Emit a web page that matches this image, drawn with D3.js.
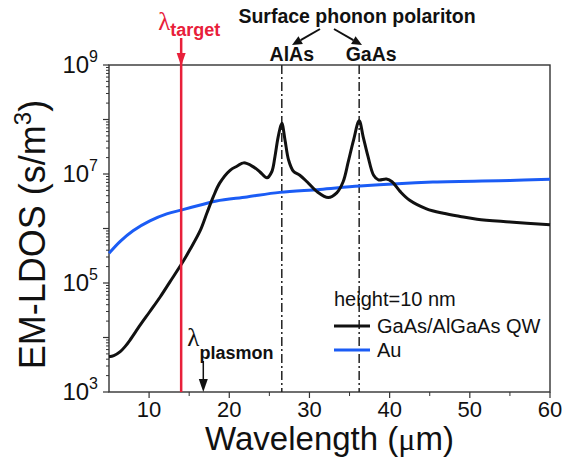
<!DOCTYPE html>
<html>
<head>
<meta charset="utf-8">
<script src="https://cdn.jsdelivr.net/npm/d3@7"></script>
<style>
  html, body { margin: 0; padding: 0; background: #fff; }
  svg { display: block; font-family: "Liberation Sans", Arial, sans-serif; }
</style>
</head>
<body>
<svg id="chart" width="565" height="464"></svg>
<script>
// ---- data ----
const wavelengthQW = [5.0, 5.6, 6.4, 7.0, 7.6, 8.9, 10.1, 11.4, 12.6, 14.1, 15.1, 16.4, 17.2, 18.0, 18.8, 20.1, 21.0, 21.8,
  23.0, 23.8, 24.7, 25.3, 25.7, 26.1, 26.55, 26.95, 27.4, 28.0, 28.8, 29.7, 30.9, 32.35, 33.4, 34.2, 34.85,
  35.5, 36.2, 36.7, 37.3, 38.0, 38.6, 39.6, 40.3, 41.3, 42.5, 44.6, 46.7, 48.8, 50.9, 55.0, 60.0];
const ldosQW = [4.45e3, 4.65e3, 5.5e3, 6.8e3, 8.9e3, 1.7e4, 3.0e4, 5.6e4, 1.05e5, 2.3e5, 4.1e5, 9.3e5, 1.9e6, 3.8e6, 6.8e6, 1.17e7, 1.4e7, 1.6e7,
  1.35e7, 1.1e7, 8.5e6, 1.1e7, 2.1e7, 4.8e7, 8.5e7, 4.2e7, 1.8e7, 1.12e7, 9.5e6, 7.2e6, 4.8e6, 3.7e6, 4.5e6, 7.2e6, 1.7e7,
  4.2e7, 9.5e7, 4.8e7, 2.1e7, 9.5e6, 7.8e6, 8.1e6, 7.2e6, 4.8e6, 3.3e6, 2.3e6, 1.9e6, 1.66e6, 1.48e6, 1.32e6, 1.17e6];

const wavelengthAu = [5.0, 6.4, 8.0, 10.1, 12.2, 14.1, 16.4, 18.4, 22.2, 26.3, 31.3, 36.3, 45.4, 55.0, 60.0];
const ldosAu = [3.5e5, 5.8e5, 9.1e5, 1.38e6, 1.85e6, 2.2e6, 2.7e6, 3.2e6, 3.8e6, 4.6e6, 5.2e6, 6.0e6, 7.1e6, 7.6e6, 8.0e6];

const xTicks = [10, 20, 30, 40, 50, 60];
const xMinorTicks = [15, 25, 35, 45, 55];
const yLabelExponents = [3, 5, 7, 9];

const lambdaTarget = 14.0;
const lambdaPlasmon = 16.76;
const phononAlAs = 26.55;
const phononGaAs = 36.2;

const legendTitle = "height=10 nm";
const seriesNames = ["GaAs/AlGaAs QW", "Au"];

// ---- layout ----
const svg = d3.select("#chart");
const plot = { left: 109, right: 550, top: 65, bottom: 392 };
const x = d3.scaleLinear().domain([5, 60]).range([plot.left, plot.right]);
const y = d3.scaleLog().domain([1e3, 1e9]).range([plot.bottom, plot.top]);

const frameColor = "#333";
const red = "#e8203a";
const blue = "#1b5cf5";
const serif = "'Liberation Serif', 'DejaVu Serif', serif";

// frame
svg.append("rect")
  .attr("x", plot.left).attr("y", plot.top)
  .attr("width", plot.right - plot.left).attr("height", plot.bottom - plot.top)
  .attr("fill", "none").attr("stroke", frameColor).attr("stroke-width", 1.4);

// y ticks (outward on left)
const yMinor = [];
for (let e = 3; e < 9; e++) for (let m = 2; m <= 9; m++) yMinor.push(m * Math.pow(10, e));
const yMajor = d3.range(3, 10).map(e => Math.pow(10, e));
svg.append("g").selectAll("line").data(yMinor).join("line")
  .attr("x1", plot.left - 3).attr("x2", plot.left)
  .attr("y1", d => y(d)).attr("y2", d => y(d))
  .attr("stroke", frameColor).attr("stroke-width", 1);
svg.append("g").selectAll("line").data(yMajor).join("line")
  .attr("x1", plot.left - 6).attr("x2", plot.left)
  .attr("y1", d => y(d)).attr("y2", d => y(d))
  .attr("stroke", frameColor).attr("stroke-width", 1.2);

// y labels 10^n
const yl = svg.append("g").selectAll("text").data(yLabelExponents).join("text")
  .attr("x", 98).attr("y", d => y(Math.pow(10, d)) + 8)
  .attr("text-anchor", "end").attr("font-size", 24).attr("fill", "#111");
yl.append("tspan").text("10");
yl.append("tspan").attr("font-size", 16).attr("dy", -11).text(d => d);

// x ticks (outward, bottom)
svg.append("g").selectAll("line").data(xTicks).join("line")
  .attr("x1", d => x(d)).attr("x2", d => x(d))
  .attr("y1", plot.bottom).attr("y2", plot.bottom + 6)
  .attr("stroke", frameColor).attr("stroke-width", 1.2);
svg.append("g").selectAll("line").data(xMinorTicks).join("line")
  .attr("x1", d => x(d)).attr("x2", d => x(d))
  .attr("y1", plot.bottom).attr("y2", plot.bottom + 4)
  .attr("stroke", frameColor).attr("stroke-width", 1);
svg.append("g").selectAll("text").data(xTicks).join("text")
  .attr("x", d => x(d)).attr("y", 417)
  .attr("text-anchor", "middle").attr("font-size", 22).attr("fill", "#111")
  .text(d => d);

// axis titles
const xt = svg.append("text").attr("x", (plot.left + plot.right) / 2).attr("y", 450)
  .attr("text-anchor", "middle").attr("font-size", 33).attr("fill", "#111");
xt.append("tspan").text("Wavelength (");
xt.append("tspan").attr("font-family", serif).attr("font-size", 32).text("\u03bc");
xt.append("tspan").text("m)");

const yt = svg.append("text")
  .attr("transform", `translate(45,${(plot.top + plot.bottom) / 2 + 6}) rotate(-90)`)
  .attr("text-anchor", "middle").attr("font-size", 36).attr("fill", "#111");
yt.append("tspan").text("EM-LDOS (s/m");
yt.append("tspan").attr("font-size", 24).attr("dy", -14).text("3");
yt.append("tspan").attr("dy", 14).text(")");

// dash-dot phonon lines
[phononAlAs, phononGaAs].forEach(v => {
  svg.append("line")
    .attr("x1", x(v)).attr("x2", x(v)).attr("y1", plot.top).attr("y2", plot.bottom)
    .attr("stroke", "#222").attr("stroke-width", 1.5)
    .attr("stroke-dasharray", "9,3,2,3");
});

// curves
const line = d3.line().x(d => x(d[0])).y(d => y(d[1])).curve(d3.curveCatmullRom.alpha(0.5));
svg.append("path").datum(d3.zip(wavelengthAu, ldosAu))
  .attr("d", line).attr("fill", "none").attr("stroke", blue).attr("stroke-width", 3);
svg.append("path").datum(d3.zip(wavelengthQW, ldosQW))
  .attr("d", line).attr("fill", "none").attr("stroke", "#111").attr("stroke-width", 3)
  .attr("stroke-linejoin", "round");

// red target line with arrow
const xr = x(lambdaTarget);
svg.append("line").attr("x1", xr).attr("x2", xr).attr("y1", 38).attr("y2", plot.bottom)
  .attr("stroke", red).attr("stroke-width", 2.5);
svg.append("path")
  .attr("d", `M${xr - 4.5},${plot.top - 12} L${xr + 4.5},${plot.top - 12} L${xr},${plot.top + 1} Z`)
  .attr("fill", red);
const lt = svg.append("text").attr("x", xr - 23).attr("y", 30).attr("fill", red);
lt.append("tspan").attr("font-family", serif).attr("font-size", 25).text("\u03bb");
lt.append("tspan").attr("font-size", 18).attr("font-weight", "bold").attr("dy", 6).text("target");

// plasmon arrow
const xp = x(lambdaPlasmon);
svg.append("line").attr("x1", xp).attr("x2", xp).attr("y1", 361).attr("y2", plot.bottom - 8)
  .attr("stroke", "#111").attr("stroke-width", 1.5);
svg.append("path")
  .attr("d", `M${xp - 4.5},${plot.bottom - 13} L${xp + 4.5},${plot.bottom - 13} L${xp},${plot.bottom} Z`)
  .attr("fill", "#111");
const lp = svg.append("text").attr("x", xp - 16).attr("y", 346).attr("fill", "#111");
lp.append("tspan").attr("font-family", serif).attr("font-size", 25).text("\u03bb");
lp.append("tspan").attr("font-size", 18).attr("font-weight", "bold").attr("dy", 13).text("plasmon");

// Surface phonon polariton annotation
svg.append("text").attr("x", 357).attr("y", 23).attr("text-anchor", "middle")
  .attr("font-size", 19.5).attr("font-weight", "bold").attr("fill", "#111")
  .text("Surface phonon polariton");
svg.append("text").attr("x", x(phononAlAs) + 10).attr("y", 61).attr("text-anchor", "middle")
  .attr("font-size", 19.5).attr("font-weight", "bold").attr("fill", "#111").text("AlAs");
svg.append("text").attr("x", x(phononGaAs) + 12).attr("y", 61).attr("text-anchor", "middle")
  .attr("font-size", 19.5).attr("font-weight", "bold").attr("fill", "#111").text("GaAs");

function arrow(x1, y1, x2, y2) {
  const ang = Math.atan2(y2 - y1, x2 - x1);
  const hl = 10, hw = 4.5;
  const bx = x2 - hl * Math.cos(ang), by = y2 - hl * Math.sin(ang);
  svg.append("line").attr("x1", x1).attr("y1", y1).attr("x2", bx).attr("y2", by)
    .attr("stroke", "#111").attr("stroke-width", 2);
  const px = -Math.sin(ang) * hw, py = Math.cos(ang) * hw;
  svg.append("path").attr("d", `M${bx + px},${by + py} L${bx - px},${by - py} L${x2},${y2} Z`).attr("fill", "#111");
}
arrow(320, 29, 292, 45);
arrow(334, 29, 362, 45);

// legend
svg.append("text").attr("x", 334).attr("y", 306).attr("font-size", 20).attr("fill", "#111").text(legendTitle);
const legColors = ["#111", blue];
seriesNames.forEach((name, i) => {
  const ly = 326 + i * 24;
  svg.append("line").attr("x1", 334).attr("x2", 370).attr("y1", ly).attr("y2", ly)
    .attr("stroke", legColors[i]).attr("stroke-width", 3);
  svg.append("text").attr("x", 377).attr("y", ly + 7).attr("font-size", 20).attr("fill", "#111").text(name);
});
</script>
</body>
</html>
